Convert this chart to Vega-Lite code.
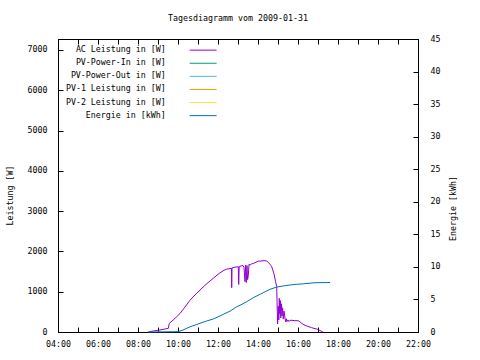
{
  "$schema": "https://vega.github.io/schema/vega-lite/v6.json",
  "width": 360,
  "height": 293,
  "autosize": {"type": "none"},
  "padding": {"left": 58, "top": 39, "right": 62, "bottom": 28},
  "background": "white",
  "title": {"text": "Tagesdiagramm vom 2009-01-31", "font": "DejaVu Sans Mono", "fontSize": 8.3, "fontWeight": "normal", "color": "black", "offset": 12, "anchor": "middle"},
  "config": {
    "view": {"stroke": "black", "strokeWidth": 1},
    "axis": {"grid": false, "domainColor": "black", "tickColor": "black", "labelColor": "black", "titleColor": "black", "labelFont": "DejaVu Sans Mono", "labelFontSize": 8.3, "titleFont": "DejaVu Sans Mono", "titleFontSize": 8.3, "titleFontWeight": "normal", "tickSize": -5, "labelFlush": false, "labelOverlap": false}
  },
  "layer": [
    {
      "data": {"values": [
        {"t": 8.515, "w": 0}, {"t": 8.765, "w": 25}, {"t": 9.1, "w": 50}, {"t": 9.35, "w": 75}, {"t": 9.515, "w": 90},
        {"t": 9.565, "w": 215}, {"t": 9.765, "w": 300}, {"t": 9.935, "w": 380}, {"t": 10.1, "w": 460}, {"t": 10.35, "w": 620},
        {"t": 10.6, "w": 790}, {"t": 10.85, "w": 920}, {"t": 11.1, "w": 1040}, {"t": 11.35, "w": 1160}, {"t": 11.6, "w": 1265},
        {"t": 11.85, "w": 1370}, {"t": 12.1, "w": 1470}, {"t": 12.3, "w": 1530}, {"t": 12.435, "w": 1560}, {"t": 12.55, "w": 1570},
        {"t": 12.675, "w": 1580}, {"t": 12.685, "w": 1100}, {"t": 12.7, "w": 1590}, {"t": 12.85, "w": 1610}, {"t": 13.015, "w": 1620},
        {"t": 13.035, "w": 1180}, {"t": 13.06, "w": 1620}, {"t": 13.15, "w": 1640}, {"t": 13.25, "w": 1650}, {"t": 13.3, "w": 1600},
        {"t": 13.35, "w": 1250}, {"t": 13.38, "w": 1660}, {"t": 13.415, "w": 1230}, {"t": 13.45, "w": 1650}, {"t": 13.48, "w": 1300},
        {"t": 13.515, "w": 1400}, {"t": 13.55, "w": 1680}, {"t": 13.6, "w": 1660}, {"t": 13.675, "w": 1690}, {"t": 13.765, "w": 1700},
        {"t": 13.85, "w": 1720}, {"t": 14.015, "w": 1760}, {"t": 14.15, "w": 1760}, {"t": 14.25, "w": 1770}, {"t": 14.35, "w": 1770},
        {"t": 14.435, "w": 1760}, {"t": 14.515, "w": 1730}, {"t": 14.6, "w": 1680}, {"t": 14.685, "w": 1620}, {"t": 14.75, "w": 1520},
        {"t": 14.8, "w": 1440}, {"t": 14.875, "w": 1260}, {"t": 14.935, "w": 1125}, {"t": 14.965, "w": 500}, {"t": 14.98, "w": 200},
        {"t": 15.015, "w": 640}, {"t": 15.04, "w": 300}, {"t": 15.065, "w": 835}, {"t": 15.09, "w": 450}, {"t": 15.115, "w": 780},
        {"t": 15.14, "w": 350}, {"t": 15.175, "w": 700}, {"t": 15.2, "w": 400}, {"t": 15.23, "w": 600}, {"t": 15.265, "w": 320},
        {"t": 15.3, "w": 520}, {"t": 15.35, "w": 340}, {"t": 15.385, "w": 250}, {"t": 15.415, "w": 330}, {"t": 15.45, "w": 260},
        {"t": 15.5, "w": 300}, {"t": 15.55, "w": 260}, {"t": 15.6, "w": 290}, {"t": 15.7, "w": 290}, {"t": 15.85, "w": 280},
        {"t": 16.015, "w": 280}, {"t": 16.1, "w": 250}, {"t": 16.185, "w": 215}, {"t": 16.3, "w": 180}, {"t": 16.435, "w": 150},
        {"t": 16.55, "w": 130}, {"t": 16.685, "w": 107}, {"t": 16.8, "w": 90}, {"t": 16.935, "w": 75}, {"t": 17.05, "w": 50},
        {"t": 17.185, "w": 15}, {"t": 17.25, "w": 0}
      ]},
      "mark": {"type": "line", "strokeWidth": 1, "interpolate": "linear"},
      "encoding": {
        "x": {"field": "t", "type": "quantitative", "scale": {"domain": [4, 22], "nice": false},
          "axis": {"orient": "bottom", "title": null, "values": [4,5,6,7,8,9,10,11,12,13,14,15,16,17,18,19,20,21,22], "labelExpr": "datum.value % 2 == 0 ? (datum.value < 10 ? '0' : '') + datum.value + ':00' : ''", "labelPadding": 12, "labelBaseline": "top"}},
        "y": {"field": "w", "type": "quantitative", "scale": {"domain": [0, 7272], "nice": false, "zero": true},
          "axis": {"orient": "left", "title": "Leistung [W]", "values": [0,1000,2000,3000,4000,5000,6000,7000], "format": "d", "labelPadding": 16, "titleX": -48, "titleY": 156, "titleAngle": 270, "titleAlign": "center", "titleBaseline": "middle"}},
        "color": {"datum": "AC Leistung in [W]", "type": "nominal",
          "scale": {"domain": ["AC Leistung in [W]", "PV-Power-In in [W]", "PV-Power-Out in [W]", "PV-1 Leistung in [W]", "PV-2 Leistung in [W]", "Energie in [kWh]"],
                    "range": ["#9400d3", "#009e73", "#56b4e9", "#e69f00", "#f0e442", "#0072b2"]},
          "legend": {"orient": "none", "legendX": 141, "legendY": 7, "direction": "vertical", "title": null, "symbolType": "M-4,0H4", "symbolSize": 45.6, "symbolStrokeWidth": 1, "labelAlign": "right", "labelOffset": -41.5, "symbolOffset": 0, "labelFont": "DejaVu Sans Mono", "labelFontSize": 8.3, "labelColor": "black", "rowPadding": 4.1, "padding": 0, "labelLimit": 300}}
      }
    },
    {
      "data": {"values": [
        {"t": 8.515, "kwh": 0}, {"t": 10.015, "kwh": 0.05}, {"t": 10.25, "kwh": 0.3}, {"t": 10.6, "kwh": 0.8}, {"t": 10.935, "kwh": 1.15},
        {"t": 11.435, "kwh": 1.69}, {"t": 11.765, "kwh": 2.0}, {"t": 12.1, "kwh": 2.46}, {"t": 12.265, "kwh": 2.72}, {"t": 12.6, "kwh": 3.2},
        {"t": 12.935, "kwh": 3.87}, {"t": 13.1, "kwh": 4.1}, {"t": 13.435, "kwh": 4.65}, {"t": 13.765, "kwh": 5.27}, {"t": 14.265, "kwh": 6.04},
        {"t": 14.6, "kwh": 6.56}, {"t": 14.935, "kwh": 6.9}, {"t": 15.265, "kwh": 7.07}, {"t": 15.6, "kwh": 7.22}, {"t": 15.935, "kwh": 7.33},
        {"t": 16.265, "kwh": 7.4}, {"t": 16.6, "kwh": 7.5}, {"t": 16.85, "kwh": 7.57}, {"t": 17.6, "kwh": 7.6}
      ]},
      "mark": {"type": "line", "strokeWidth": 1, "interpolate": "linear"},
      "encoding": {
        "x": {"field": "t", "type": "quantitative", "scale": {"domain": [4, 22], "nice": false},
          "axis": {"orient": "top", "title": null, "labels": false, "values": [4,5,6,7,8,9,10,11,12,13,14,15,16,17,18,19,20,21,22]}},
        "y": {"field": "kwh", "type": "quantitative", "scale": {"domain": [0, 45], "nice": false},
          "axis": {"orient": "right", "title": "Energie [kWh]", "values": [0,5,10,15,20,25,30,35,40,45], "labelPadding": 17, "titleX": 35, "titleY": 169, "titleAngle": 270, "titleAlign": "center", "titleBaseline": "middle"}},
        "color": {"datum": "Energie in [kWh]", "type": "nominal"}
      }
    }
  ],
  "resolve": {"scale": {"y": "independent"}, "axis": {"x": "independent"}}
}
